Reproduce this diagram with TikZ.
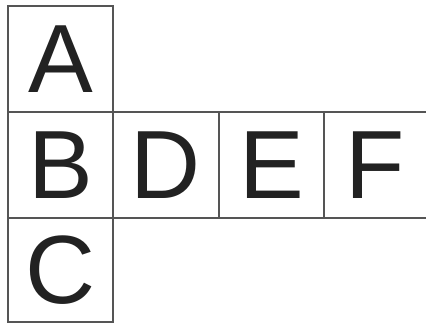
\documentclass[tikz,border=0pt]{standalone}
\usepackage{fontspec}
\setmainfont{Liberation Sans}
\definecolor{linegray}{HTML}{555555}
\definecolor{letter}{HTML}{222222}
\begin{document}
\begin{tikzpicture}[x=1pt,y=-1pt,
  cell/.style={draw=linegray, line width=1.1pt, inner sep=0pt, outer sep=0pt,
    text=letter, font=\fontsize{97}{97}\selectfont, anchor=north west},
  open/.style={cell, draw=none}]
\useasboundingbox[fill=white] (0,0) rectangle (426,324);
\node[cell, minimum width=105pt, minimum height=106pt] (A) at (8,6) {A};
\node[cell, minimum width=105pt, minimum height=106pt] (B) at (8,112) {B};
\node[cell, minimum width=105pt, minimum height=104pt] (C) at (8,218) {C};
\node[cell, minimum width=106pt, minimum height=106pt] (D) at (113,112) {D};
\node[cell, minimum width=105pt, minimum height=106pt] (E) at (219,112) {E};
\node[open, minimum width=102pt, minimum height=106pt] (F) at (324,112) {F};
\draw[draw=linegray, line width=1.1pt] (F.north west) -- (F.north east);
\draw[draw=linegray, line width=1.1pt] (F.south west) -- (F.south east);
\end{tikzpicture}
\end{document}
